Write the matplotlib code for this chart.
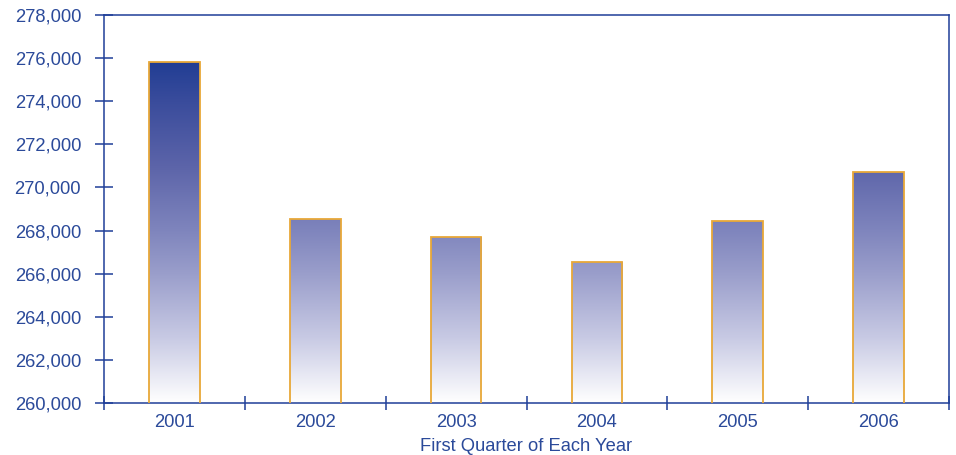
import numpy as np
import matplotlib.pyplot as plt
from matplotlib.colors import LinearSegmentedColormap

plt.rcParams['font.family'] = ['Liberation Sans', 'DejaVu Sans']

years = ['2001', '2002', '2003', '2004', '2005', '2006']
values = [275820, 268530, 267700, 266540, 268440, 270710]

ymin, ymax = 260000, 278000
blue = '#1F3F99'
text_blue = '#2B4A9A'
orange = '#E8A838'

# gradient fixed to the value axis: white at the bottom, navy near the top
cmap = LinearSegmentedColormap.from_list('bars', [
    (0.0, '#FFFFFF'),
    (3 / 16, '#C8CAE4'),
    (6 / 16, '#9A9ECB'),
    (8 / 16, '#7F85BD'),
    (11 / 16, '#5C64A9'),
    (14 / 16, '#3A4C9C'),
    (1.0, '#1F3C93'),
])

fig = plt.figure(figsize=(9.56, 4.55), dpi=100)
ax = fig.add_axes([0.1088, 0.1143, 0.8839, 0.8527])

x = np.arange(len(years))
width = 0.36
bars = ax.bar(x, values, width=width, bottom=0, facecolor='none',
              edgecolor=orange, linewidth=1.3, zorder=3)

grad = np.linspace(0, 1, 256).reshape(-1, 1)
for b in bars:
    im = ax.imshow(grad, cmap=cmap, origin='lower', aspect='auto',
                   extent=[b.get_x(), b.get_x() + b.get_width(), ymin, ymin + 16000],
                   zorder=2)
    im.set_clip_path(b)

ax.set_xlim(-0.5, len(years) - 0.5)
ax.set_ylim(ymin, ymax)

ax.set_xticks(x)
ax.set_xticklabels(years)
ax.set_xticks(np.arange(-0.5, len(years)), minor=True)
ax.tick_params(axis='x', which='major', length=0, pad=8, labelsize=13.2, labelcolor=text_blue)
ax.tick_params(axis='x', which='minor', direction='inout', length=10, width=1.1, color=blue)

yt = np.arange(ymin, ymax + 1, 2000)
ax.set_yticks(yt)
ax.set_yticklabels([f'{v:,}' for v in yt])
ax.tick_params(axis='y', direction='inout', length=13, width=1.1, color=blue,
               pad=10, labelsize=13.2, labelcolor=text_blue)

for s in ax.spines.values():
    s.set_color(blue)
    s.set_linewidth(1.1)

ax.set_xlabel('First Quarter of Each Year', fontsize=13.2, color=text_blue, labelpad=5)

fig.savefig('out.png', dpi=100)
